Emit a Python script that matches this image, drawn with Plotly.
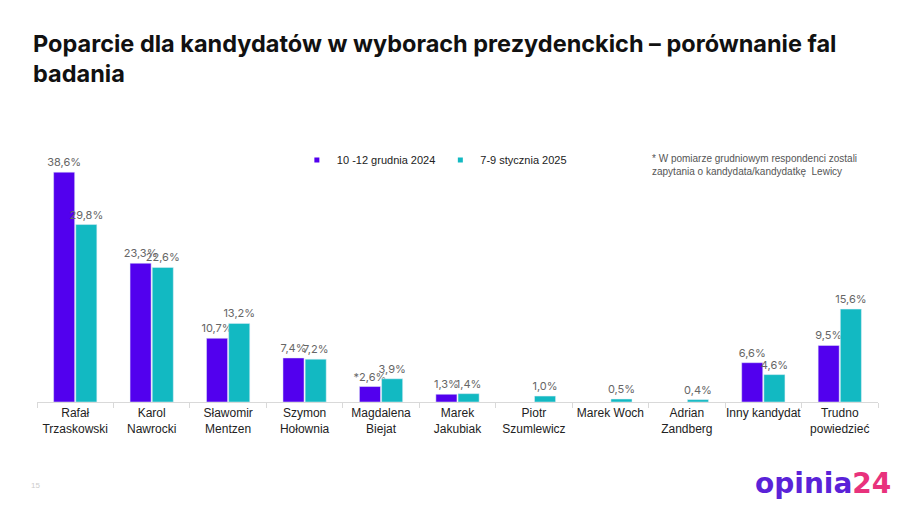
import plotly.graph_objects as go

categories = ["Rafał<br>Trzaskowski", "Karol<br>Nawrocki", "Sławomir<br>Mentzen",
              "Szymon<br>Hołownia", "Magdalena<br>Biejat", "Marek<br>Jakubiak",
              "Piotr<br>Szumlewicz", "Marek Woch", "Adrian<br>Zandberg",
              "Inny kandydat", "Trudno<br>powiedzieć"]
dec_2024 = [38.6, 23.3, 10.7, 7.4, 2.6, 1.3, None, None, None, 6.6, 9.5]
jan_2025 = [29.8, 22.6, 13.2, 7.2, 3.9, 1.4, 1.0, 0.5, 0.4, 4.6, 15.6]
series_names = ["10 -12 grudnia 2024", "7-9 stycznia 2025"]
label_prefix_dec = ["", "", "", "", "*", "", "", "", "", "", ""]

def fmt(v, p=""):
    if v is None:
        return ""
    return p + f"{v:.1f}".replace(".", ",") + "%"

dec_text = [fmt(v, p) for v, p in zip(dec_2024, label_prefix_dec)]
jan_text = [fmt(v) for v in jan_2025]

PURPLE = "#5200EE"
TEAL = "#12B9C2"
colors = [PURPLE, TEAL]
label_font = dict(family="Inter, Lato, sans-serif", size=11, color="#666666")

fig = go.Figure()
for vals, txt, name, col in [(dec_2024, dec_text, series_names[0], PURPLE),
                             (jan_2025, jan_text, series_names[1], TEAL)]:
    fig.add_trace(go.Bar(x=categories, y=vals, name=name, marker_color=col,
                         text=txt, textposition="outside", textfont=label_font,
                         constraintext="none", cliponaxis=False, showlegend=False,
                         legendgroup=name))
# small square legend markers (as in the reference)
for name, col in zip(series_names, colors):
    fig.add_trace(go.Scatter(x=[None], y=[None], mode="markers", name=name,
                             legendgroup=name,
                             marker=dict(symbol="square", size=5, color=col)))

W, H = 907, 506
fig.update_layout(
    width=W, height=H,
    margin=dict(l=29, r=37, t=132, b=112),
    paper_bgcolor="white", plot_bgcolor="white",
    barmode="group", bargap=0.42, bargroupgap=0.05,
    title=dict(text="Poparcie dla kandydatów w wyborach prezydenckich – porównanie fal<br>badania",
               x=25 / W, xanchor="left", y=0.914, yanchor="top",
               font=dict(family="Inter, sans-serif", size=23.5, color="#111111", weight="bold")),
    legend=dict(orientation="h", x=0.309, xanchor="left", y=0.924, yanchor="middle",
                font=dict(family="Liberation Sans, Arial", size=11, color="#222222"),
                itemsizing="trace", itemwidth=30, bgcolor="rgba(0,0,0,0)",
                traceorder="normal"),
    xaxis=dict(showline=True, linecolor="#D9D9D9", linewidth=1, ticks="outside",
               tickson="boundaries", ticklen=5, tickcolor="#D9D9D9", tickangle=0,
               automargin=False,
               tickfont=dict(family="Liberation Sans, Arial", size=12, color="#222222"),
               showgrid=False),
    yaxis=dict(range=[0, 44], visible=False, showgrid=False),
    showlegend=True,
)

fig.add_annotation(text="* W pomiarze grudniowym respondenci zostali<br>zapytania o kandydata/kandydatkę  Lewicy",
                   xref="paper", yref="paper", x=0.729, y=0.958, xanchor="left", yanchor="top",
                   align="left", showarrow=False,
                   font=dict(family="Liberation Sans, Arial", size=10, color="#555555"))
fig.add_annotation(text="15", xref="paper", yref="paper", x=-0.009, y=-0.317,
                   xanchor="left", yanchor="middle", showarrow=False,
                   font=dict(family="Liberation Sans, Arial", size=8, color="#CCCCCC"))
fig.add_annotation(text="<b><span style='color:#5A22D8'>opinia</span><span style='color:#E8327C'>24</span></b>",
                   xref="paper", yref="paper", x=(893 - 8 - 29) / 841, y=(394 - 475) / 262,
                   xanchor="right", yanchor="middle", showarrow=False,
                   font=dict(family="DejaVu Sans, sans-serif", size=28))

fig.write_html("out.html")
